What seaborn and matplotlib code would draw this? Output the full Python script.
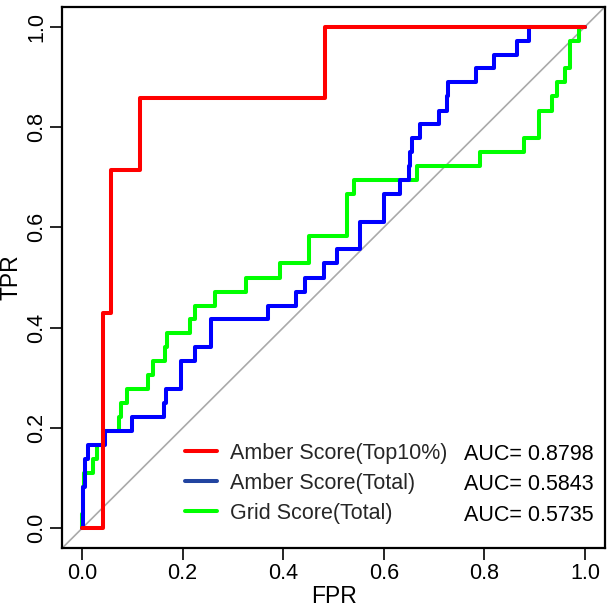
"""
ROC curves for Amber / Grid scores, redrawn as step lines.
"""
import numpy as np
import pandas as pd
import matplotlib
matplotlib.use("Agg")
import matplotlib.pyplot as plt
from matplotlib.lines import Line2D
import seaborn as sns

# ROC points: at FPR x[i] the TPR jumps up to y[i]
amber_top_fpr = [0.0, 0.042, 0.058, 0.116, 0.4825, 1.0]
amber_top_tpr = [0.0, 0.429, 0.714, 0.857, 1.0, 1.0]

amber_total_fpr = [0.0, 0.001, 0.005, 0.011, 0.046, 0.100, 0.162, 0.166, 0.197, 0.224,
                   0.256, 0.369, 0.425, 0.444, 0.482, 0.507, 0.553, 0.600, 0.633, 0.650,
                   0.653, 0.656, 0.673, 0.709, 0.725, 0.727, 0.783, 0.819, 0.865, 0.888, 1.0]
amber_total_tpr = [0.0, 0.083, 0.139, 0.167, 0.194, 0.222, 0.250, 0.278, 0.333, 0.361,
                   0.417, 0.444, 0.472, 0.500, 0.528, 0.556, 0.611, 0.667, 0.694, 0.722,
                   0.750, 0.778, 0.806, 0.833, 0.861, 0.889, 0.917, 0.944, 0.972, 1.0, 1.0]

grid_total_fpr = [0.0, 0.0, 0.001, 0.004, 0.021, 0.030, 0.042, 0.073, 0.078, 0.089,
                  0.132, 0.141, 0.164, 0.169, 0.215, 0.224, 0.265, 0.325, 0.394, 0.451,
                  0.526, 0.540, 0.666, 0.792, 0.878, 0.908, 0.935, 0.945, 0.961, 0.971,
                  0.988, 1.0]
grid_total_tpr = [0.0, 0.028, 0.083, 0.111, 0.139, 0.167, 0.194, 0.222, 0.250, 0.278,
                  0.306, 0.333, 0.361, 0.389, 0.417, 0.444, 0.472, 0.500, 0.528, 0.583,
                  0.667, 0.694, 0.722, 0.750, 0.778, 0.833, 0.861, 0.889, 0.917, 0.972,
                  1.0, 1.0]

labels = ["Amber Score(Top10%)", "Amber Score(Total)", "Grid Score(Total)"]
auc_text = ["AUC= 0.8798", "AUC= 0.5843", "AUC= 0.5735"]
colors = ["#ff0000", "#0000ff", "#00ff00"]
legend_colors = ["#ff0000", "#2244a0", "#00ff00"]
ticks = [0.0, 0.2, 0.4, 0.6, 0.8, 1.0]


def build_df():
    parts = []
    for name, fpr, tpr in zip(labels,
                              [amber_top_fpr, amber_total_fpr, grid_total_fpr],
                              [amber_top_tpr, amber_total_tpr, grid_total_tpr]):
        parts.append(pd.DataFrame({"FPR": fpr, "TPR": tpr, "score": name,
                                   "order": np.arange(len(fpr))}))
    return pd.concat(parts, ignore_index=True)


def main():
    sns.set_theme(style="white")
    plt.rcParams["font.family"] = ["Liberation Sans", "DejaVu Sans"]
    fs = 15.5

    df = build_df()

    fig = plt.figure(figsize=(6.12, 6.11), dpi=100)
    ax = fig.add_axes([0.1013, 0.1026, 0.8873, 0.8864])

    # chance diagonal across the whole panel
    ax.axline((0, 0), (1, 1), color="#aaaaaa", lw=1.2, zorder=1)

    # draw in reverse so red sits on top
    for name, col in reversed(list(zip(labels, colors))):
        sub = df[df["score"] == name]
        sns.lineplot(data=sub, x="FPR", y="TPR", ax=ax, color=col, lw=2.9,
                     estimator=None, sort=False, drawstyle="steps-post",
                     legend=False, zorder=3)

    ax.set_xlim(-0.04, 1.04)
    ax.set_ylim(-0.04, 1.04)
    ax.set_xticks(ticks)
    ax.set_yticks(ticks)
    ax.set_xticklabels([f"{t:.1f}" for t in ticks], fontsize=fs)
    ax.set_yticklabels([f"{t:.1f}" for t in ticks], fontsize=fs, rotation=90, va="center")
    ax.tick_params(axis="both", direction="out", length=8.5, width=1.2, color="black",
                   bottom=True, left=True, pad=2, labelcolor="black")
    ax.set_xlabel("FPR", fontsize=fs + 1, color="black", labelpad=1)
    ax.set_ylabel("TPR", fontsize=fs + 1, color="black")
    ax.yaxis.set_label_coords(-0.073, 0.5)
    for sp in ax.spines.values():
        sp.set_color("black")
        sp.set_linewidth(1.6)

    handles = [Line2D([], [], color=c, lw=2.9) for c in legend_colors]
    ax.legend(handles, labels, loc="upper left", bbox_to_anchor=(0.2265, 0.1945),
              frameon=False, fontsize=fs, handlelength=1.5, handletextpad=0.59,
              labelspacing=0.41, borderpad=0, borderaxespad=0)

    for txt, yy in zip(auc_text, [0.1735, 0.1175, 0.061]):
        ax.text(0.740, yy, txt, transform=ax.transAxes, fontsize=fs,
                ha="left", va="center", color="black")

    fig.savefig("out.png", dpi=100)


if __name__ == "__main__":
    main()
